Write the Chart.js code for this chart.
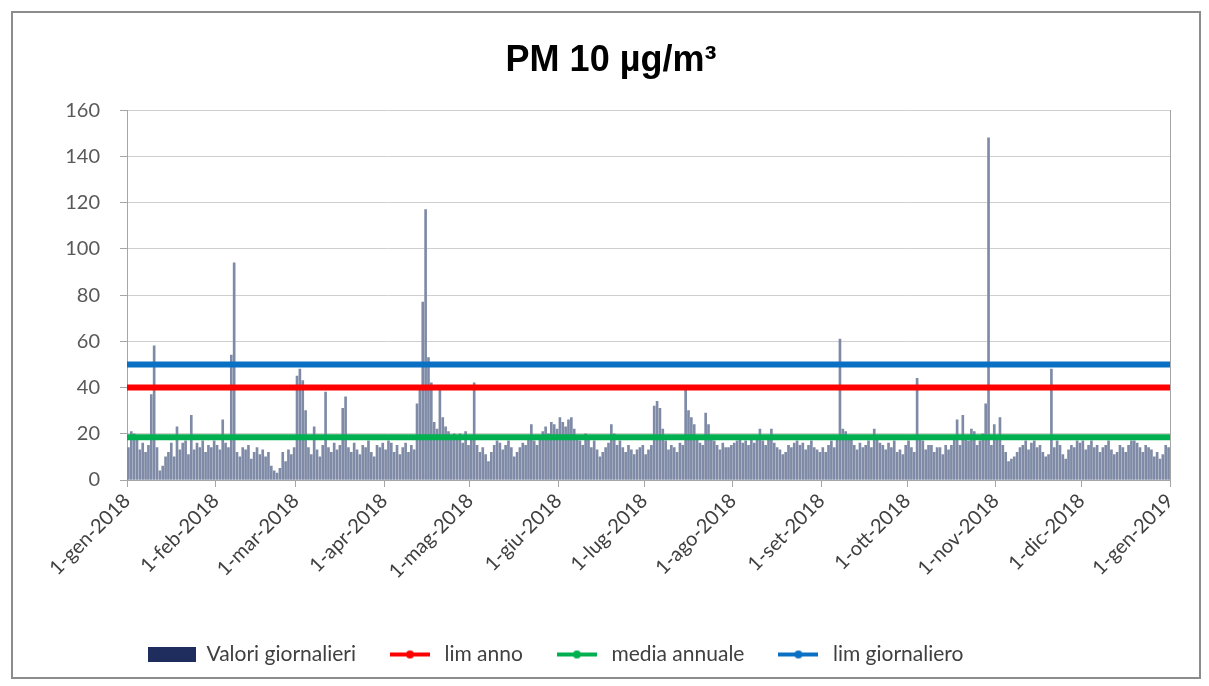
<!DOCTYPE html>
<html><head><meta charset="utf-8">
<script src="https://cdn.jsdelivr.net/npm/chart.js@4.4.1/dist/chart.umd.min.js"></script>
<style>
html,body{margin:0;padding:0;background:#fff;}
#wrap{position:relative;width:1209px;height:686px;overflow:hidden;}
#frame{position:absolute;left:11px;top:11px;width:1190px;height:668px;border:2px solid #8c8c8c;box-sizing:border-box;}
canvas{position:absolute;left:0;top:0;}
</style></head><body>
<div id="wrap"><div id="frame"></div><canvas id="c" width="1209" height="686"></canvas></div>
<script>
// Daily PM10 values (µg/m³), 2018, one array per month
const gen18 = [14,21,20,18,13,16,12,15,37,58,14,4,6,10,12,16,10,23,13,16,17,11,28,13,16,14,17,12,15,14,17];
const feb18 = [15,13,26,16,14,54,94,12,10,14,13,15,9,12,14,11,13,10,12,6,4,3,5,12,8,13,11,14];
const mar18 = [45,48,43,30,14,11,23,13,10,15,38,14,12,16,13,15,31,36,14,12,16,13,11,15,14,17,12,10,15,14,16];
const apr18 = [13,17,16,12,15,11,14,16,12,15,13,33,40,77,117,53,42,25,22,39,27,23,21,18,20,19,20,16,21,15];
const mag18 = [18,42,15,12,14,11,8,12,15,17,16,13,15,17,14,10,12,14,16,15,18,24,17,15,19,21,23,20,25,24,22];
const giu18 = [27,25,23,26,27,22,19,17,15,20,18,14,17,13,10,12,14,16,24,20,15,17,14,12,15,13,11,13,14,15];
const lug18 = [11,13,15,32,34,31,22,17,13,15,14,12,16,15,40,30,27,24,18,16,15,29,24,19,17,15,13,16,14,14,15];
const ago18 = [16,17,18,16,17,15,18,16,19,22,17,15,18,22,16,14,13,11,12,15,14,16,17,15,16,13,15,17,14,13,12];
const set18 = [14,12,15,17,14,19,61,22,21,18,19,15,13,16,14,15,17,14,22,18,16,15,13,16,14,17,12,13,11,15];
const ott18 = [17,14,12,44,19,17,13,15,15,12,14,14,11,15,13,15,18,26,15,28,19,17,22,21,15,17,20,33,148,15,24];
const nov18 = [19,27,15,12,8,9,10,12,14,15,17,13,16,17,14,15,12,10,11,48,14,17,15,11,9,13,15,14,17,16];
const dic18 = [17,13,15,17,14,15,12,14,15,17,13,11,12,15,14,12,15,17,17,16,14,12,15,14,13,10,12,9,11,15,14];

const limAnno = 40;
const mediaAnnuale = 18.5;
const limGiornaliero = 50;

const tickLabels = ['1-gen-2018','1-feb-2018','1-mar-2018','1-apr-2018','1-mag-2018','1-giu-2018',
  '1-lug-2018','1-ago-2018','1-set-2018','1-ott-2018','1-nov-2018','1-dic-2018','1-gen-2019'];
const seriesNames = ['Valori giornalieri','lim anno','media annuale','lim giornaliero'];

const months = [gen18,feb18,mar18,apr18,mag18,giu18,lug18,ago18,set18,ott18,nov18,dic18];
const daily = months.flat();
const monthStarts = [0];
months.forEach(m => monthStarts.push(monthStarts[monthStarts.length-1] + m.length));
const xMax = daily.length;

const barPoints = daily.map((v,i) => ({x: i + 0.5, y: v}));
const hLine = v => [{x: 0, y: v}, {x: xMax, y: v}];

const COL_BAR = '#7F8BA6', COL_RED = '#FF0000', COL_GREEN = '#00B050', COL_BLUE = '#0A70C4';

function lineSwatch(color){
  const c = document.createElement('canvas'); c.width = 40; c.height = 12;
  const g = c.getContext('2d');
  g.fillStyle = color; g.fillRect(0,4,40,4);
  g.beginPath(); g.arc(20,6,4,0,Math.PI*2); g.fill();
  return c;
}
function boxSwatch(color){
  const c = document.createElement('canvas'); c.width = 48; c.height = 15;
  const g = c.getContext('2d'); g.fillStyle = color; g.fillRect(0,0,48,15);
  return c;
}
const swatches = [boxSwatch('#1F2D5E'), lineSwatch(COL_RED), lineSwatch(COL_GREEN), lineSwatch(COL_BLUE)];

const FONT = 'Lato, "Open Sans", sans-serif';

const shiftPlugin = {
  id: 'shiftPlugin',
  afterLayout(chart){
    const L = chart.legend; const w = L.right - L.left;
    L.left = 118; L.right = L.left + w;
    const T = chart.titleBlock; const tw = T.right - T.left;
    T.left = 26; T.right = T.left + tw;
  }
};

new Chart(document.getElementById('c'), {
  type: 'bar',
  data: {
    datasets: [
      {type:'line', label: seriesNames[1], data: hLine(limAnno), borderColor: COL_RED, borderWidth: 6, pointRadius: 0, order: 1},
      {type:'line', label: seriesNames[2], data: hLine(mediaAnnuale), borderColor: COL_GREEN, borderWidth: 6, pointRadius: 0, order: 1},
      {type:'line', label: seriesNames[3], data: hLine(limGiornaliero), borderColor: COL_BLUE, borderWidth: 6, pointRadius: 0, order: 0},
      {type:'bar', label: seriesNames[0], data: barPoints, backgroundColor: COL_BAR, barThickness: 2, order: 5}
    ]
  },
  plugins: [shiftPlugin],
  options: {
    responsive: false,
    animation: false,
    events: [],
    layout: {padding: {left: 0, right: 39, top: 0, bottom: 11}},
    plugins: {
      tooltip: {enabled: false},
      title: {
        display: true, text: 'PM 10 µg/m³', color: '#000',
        font: {family: '"Liberation Sans", Arial, sans-serif', size: 36, weight: 'bold'},
        padding: {top: 39, bottom: 28}
      },
      legend: {
        position: 'bottom', align: 'start',
        labels: {
          usePointStyle: true, pointStyleWidth: 48, padding: 30,
          color: '#404040', font: {family: FONT, size: 21},
          generateLabels: () => seriesNames.map((n,i) => ({
            text: n, pointStyle: swatches[i], fillStyle: 'transparent', strokeStyle: 'transparent',
            lineWidth: 0, hidden: false, datasetIndex: i, fontColor: '#404040'
          }))
        }
      }
    },
    scales: {
      x: {
        type: 'linear', min: 0, max: xMax, offset: false,
        afterBuildTicks: s => { s.ticks = monthStarts.map(v => ({value: v})); },
        afterFit: s => { s.height = 134; s.paddingLeft = 0; s.paddingRight = 0; },
        ticks: {
          autoSkip: false, minRotation: 45, maxRotation: 45, padding: 2,
          color: '#404040', font: {family: FONT, size: 20},
          callback: (v, i) => tickLabels[i]
        },
        grid: {drawOnChartArea: false, offset: false, tickLength: 7, color: '#a6a6a6'},
        border: {display: true, color: '#a6a6a6', width: 1}
      },
      y: {
        min: 0, max: 160,
        afterFit: s => { s.width = 127; s.paddingTop = 0; s.paddingBottom = 0; },
        ticks: {stepSize: 20, padding: 20, color: '#595959', font: {family: FONT, size: 20}},
        grid: {color: '#cfcfcf', tickLength: 7, tickColor: '#a6a6a6'},
        border: {display: true, color: '#a6a6a6', width: 1}
      },
      y2: {
        position: 'right', min: 0, max: 160,
        afterFit: s => { s.width = 0; s.paddingTop = 0; s.paddingBottom = 0; },
        ticks: {display: false},
        grid: {display: false},
        border: {display: true, color: '#a6a6a6', width: 1}
      }
    }
  }
});
</script>
</body></html>
